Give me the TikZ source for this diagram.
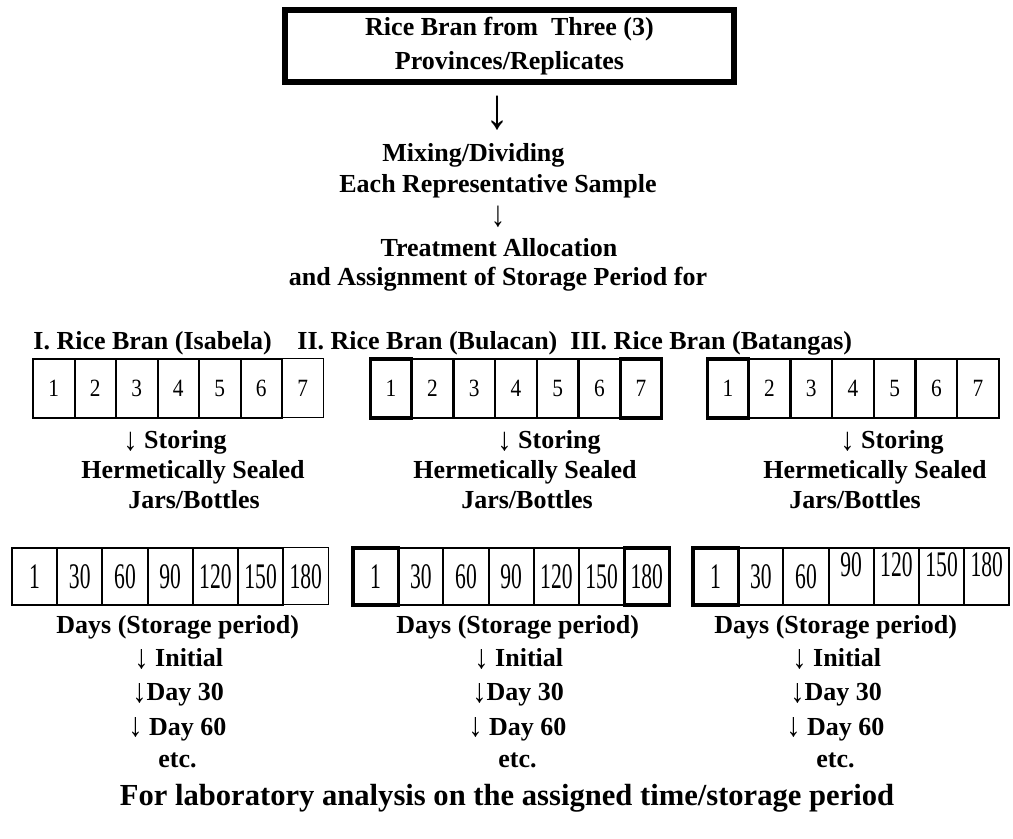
\documentclass[tikz,border=0pt]{standalone}
\usepackage{fontspec}
\usepackage{graphicx}
\setmainfont{Liberation Serif}
% stretched down arrow used inside the step texts
\newcommand{\dnarrow}[2][1.3]{\raisebox{#2}{\scalebox{1.1}[#1]{↓}}}
\begin{document}
\begin{tikzpicture}[x=0.5pt,y=-0.5pt,
		every node/.style={inner sep=0pt},
		txt/.style={font=\fontsize{13}{15.5}\selectfont\bfseries},
		cellA/.style={draw,minimum width=20.75pt,minimum height=29.5pt,font=\fontsize{12.4}{14}\selectfont},
		cellB/.style={draw,minimum width=22.6pt,minimum height=28.5pt,font=\fontsize{18}{20}\selectfont},
		hairline/.style={line width=0.5pt},
		normline/.style={line width=1pt},
		boldline/.style={line width=1.6pt},
		normup/.style={normline,text depth=12pt}
	]
	\useasboundingbox (0,0) rectangle (1013,839);

	% source box and the steps below it
	\node[txt,draw,line width=3pt,minimum width=224.5pt,minimum height=36pt,align=center,
		font=\fontsize{13}{17}\selectfont\bfseries] (src) at (509.5,46)
		{Rice Bran from~ Three (3)\\Provinces/Replicates};
	\node[font=\fontsize{24}{24}\selectfont] (down0) at (497,113) {\scalebox{1}[1.2]{↓}};
	\node[txt,anchor=west] (mix) at (382,155) {Mixing/Dividing};
	\node[txt] (each) at (498,186) {Each Representative Sample};
	\node[font=\fontsize{13}{15}\selectfont] (down1) at (498,217) {\scalebox{1.1}[1.4]{↓}};
	\node[txt] (treat) at (499,248) {Treatment Allocation};
	\node[txt] (assign) at (498,279) {and Assignment of Storage Period for};

	% provinces
	\node[txt,anchor=west] (hdr1) at (33,343) {I. Rice Bran (Isabela)};
	\node[txt,anchor=west] (hdr2) at (297,343) {II. Rice Bran (Bulacan)};
	\node[txt,anchor=west] (hdr3) at (570,343) {III. Rice Bran (Batangas)};

	% treatments 1-7
	\foreach \n/\s in {1/normline,2/normline,3/normline,4/normline,5/normline,6/normline,7/hairline}
		\node[cellA,\s] (a1\n) at (33+41.5*\n-20.75,388.5) {\scalebox{0.86}[1]{\n}};
	\foreach \n/\s in {1/boldline,2/normline,3/normline,4/normline,5/normline,6/normline,7/boldline}
		\node[cellA,\s] (a2\n) at (370+41.7*\n-20.85,388.5) {\scalebox{0.86}[1]{\n}};
	\foreach \n/\s in {1/boldline,2/normline,3/normline,4/normline,5/normline,6/normline,7/normline}
		\node[cellA,\s] (a3\n) at (707+41.7*\n-20.85,388.5) {\scalebox{0.86}[1]{\n}};

	% storing
	\foreach \g/\xs/\xh/\xj in {1/123/193/194,2/497/525/527,3/840/875/855} {
		\node[txt,anchor=base west] (store\g) at (\xs,449) {{\mdseries\dnarrow[1.25]{-1pt}} Storing};
		\node[txt,anchor=base] (seal\g) at (\xh,479) {Hermetically Sealed};
		\node[txt,anchor=base] (jar\g) at (\xj,509) {Jars/Bottles};
	}

	% storage days
	\foreach \n/\d/\s in {1/1/normline,2/30/normline,3/60/normline,4/90/normline,5/120/normline,6/150/normline,7/180/hairline}
		\node[cellB,\s] (b1\n) at (12+45.2*\n-22.6,576.5) {\scalebox{0.6}[1]{\d}};
	\foreach \n/\d/\s in {1/1/boldline,2/30/normline,3/60/normline,4/90/normline,5/120/normline,6/150/normline,7/180/boldline}
		\node[cellB,\s] (b2\n) at (353+45.2*\n-22.6,576.5) {\scalebox{0.6}[1]{\d}};
	\foreach \n/\d/\s in {1/1/boldline,2/30/normline,3/60/normline,4/90/normup,5/120/normup,6/150/normup,7/180/normup}
		\node[cellB,\s] (b3\n) at (693+45.2*\n-22.6,576.5) {\scalebox{0.6}[1]{\d}};

	% sampling schedule
	\foreach \g/\x in {1/56,2/396,3/714} {
		\node[txt,anchor=base west] (days\g) at (\x,634) {Days (Storage period)};
		\node[txt,anchor=base west] (init\g) at (\x+78,667) {\dnarrow{-1pt} Initial};
		\node[txt,anchor=base west] (dthirty\g) at (\x+76,701) {\dnarrow{-1pt}Day 30};
		\node[txt,anchor=base west] (dsixty\g) at (\x+72,735) {\dnarrow{-1pt} Day 60};
		\node[txt,anchor=base west] (etc\g) at (\x+102,768) {etc.};
	}

	\node[txt,font=\fontsize{15.3}{18}\selectfont\bfseries] (lab) at (507,798)
		{For laboratory analysis on the assigned time/storage period};
\end{tikzpicture}
\end{document}
